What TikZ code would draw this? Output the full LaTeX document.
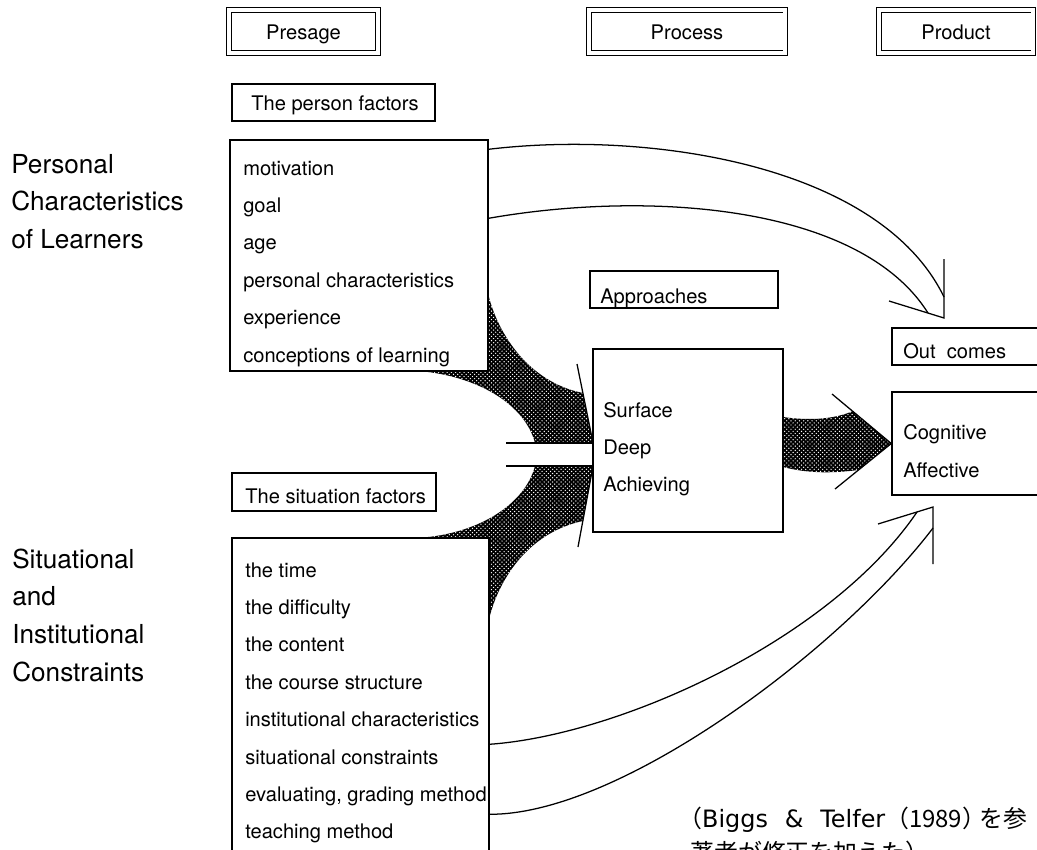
\documentclass[tikz,border=0pt]{standalone}
\usepackage{fontspec}
\setmainfont{TeX Gyre Heros}
\newfontfamily\jpfont{Noto Sans CJK JP}
\newfontfamily\reffont{DejaVu Sans}
\usetikzlibrary{calc,backgrounds,patterns}

\newcommand{\boxfont}{\fontsize{14.3}{17}\selectfont}
\newcommand{\sidefont}{\fontsize{18.6}{22}\selectfont}

\begin{document}
\begin{tikzpicture}[x=0.025cm, y=-0.025cm]
\tikzset{stagebox/.style={draw=black, double=white, double distance=2.2pt, line width=0.7pt, inner sep=0pt,
           minimum height=1.075cm, text height=11pt, text depth=0pt, font=\boxfont},
  frame/.style={draw, line width=1pt, inner sep=0pt},
  item/.style={anchor=base west, inner sep=0pt, font=\boxfont},
  side/.style={anchor=base west, inner sep=0pt, font=\sidefont},
  band/.style={fill=black, postaction={pattern=crosshatch dots, pattern color=white}},
  flow/.style={line width=0.9pt}};
   \useasboundingbox (0,0) rectangle (1037,849);

   % the three stages
   \node[stagebox, minimum width=3.725cm] (presage) at (303.5,31.5) {Presage};
   \node[stagebox, minimum width=4.9cm] (process) at (687,31.5) {Process};
   \node[stagebox, minimum width=3.85cm] (product) at (956,31.5) {Product};

   % presage boxes
   \node[frame, minimum width=5.075cm, minimum height=0.925cm] (personlbl) at (333.5,102.5) {};
   \node[item] (personttl) at (251,110) {The person factors};
   \node[frame, minimum width=6.45cm, minimum height=5.775cm] (person) at (359,255.5) {};
   \foreach \t [count=\i] in {motivation, goal, age, personal characteristics, experience, conceptions of learning}
      \node[item] (pf\i) at (243,{175+37.4*(\i-1)}) {\t};

   \node[frame, minimum width=5.1cm, minimum height=0.95cm] (sitlbl) at (334,492) {};
   \node[item] (sitttl) at (245,503) {The situation factors};
   \node[frame, minimum width=6.425cm, minimum height=8.55cm] (sit) at (360.5,709) {};
   \foreach \t [count=\i] in {the time, the difficulty, the content, the course structure,
      institutional characteristics, situational constraints, {evaluating, grading method}, teaching method}
      \node[item] (sf\i) at (245,{577+37.4*(\i-1)}) {\t};

   % side labels
   \foreach \t [count=\i] in {Personal, Characteristics, of Learners}
      \node[side] (learner\i) at (11,{173.2+37.4*(\i-1)}) {\t};
   \foreach \t [count=\i] in {Situational, and, Institutional, Constraints}
      \node[side] (constr\i) at (12,{568+37.7*(\i-1)}) {\t};

   % process
   \node[frame, minimum width=4.7cm, minimum height=0.925cm] (apprlbl) at (684,289.5) {};
   \node[item] (apprttl) at (600,303) {Approaches};
   \node[frame, minimum width=4.75cm, minimum height=4.575cm] (appr) at (688,440.5) {};
   \foreach \t [count=\i] in {Surface, Deep, Achieving}
      \node[item] (ap\i) at (603,{417+37*(\i-1)}) {\t};

   % product
   \node[frame, minimum width=4.2cm, minimum height=0.925cm] (outlbl) at (976,346.5) {};
   \node[item] (outttl) at (903,358) {Out\ \ comes};
   \node[frame, minimum width=4.2cm, minimum height=2.575cm] (cog) at (976,443.5) {};
   \node[item] (oc1) at (903,439) {Cognitive};
   \node[item] (oc2) at (903,477) {Affective};

   % broad arrows
   \begin{scope}[on background layer]
   \fill[band] ($(person.north east)+(0,157)$) .. controls (498,333) and (528,382) .. (583,393)
      -- (593,443) -- (535,443) .. controls (525,405) and (480,378) .. ($(person.south east)+(-63,0)$)
      -- (person.south east) -- cycle;
   \fill[band] (535,466) -- (593,466) -- (583,521) .. controls (530,532) and (500,577) .. ($(sit.north east)+(0,79)$)
      -- (sit.north east) -- ($(sit.north east)+(-64,0)$) .. controls (480,532) and (525,504) .. (535,466) -- cycle;
   \fill[band] (783,417) .. controls (810,421) and (835,419) .. (853,411) -- (cog.west)
      -- (858,470) .. controls (835,473) and (810,474) .. (783,467) -- cycle;
   \end{scope}
   \draw[flow] (577,364) -- (593,443);
   \draw[flow] (578,547) -- (593,466);
   \draw[flow] (506,443) -- (593,443);
   \draw[flow] (506,466) -- (593,466);
   \draw[flow] (832,394) -- (cog.west) -- (835,489);

   % open arrows to the outcomes
   \coordinate (tipT) at (944,318);
   \coordinate (tipB) at (933,507);
   \draw[flow] ($(person.north east)+(0,10)$) .. controls (650,130) and (880,165) .. (944,297);
   \draw[flow] ($(person.north east)+(0,79)$) .. controls (650,190) and (860,205) .. (928,313);
   \draw[flow] (944,259) -- (tipT) -- (889,301);
   \draw[flow] ($(sit.north east)+(0,207)$) .. controls (620,735) and (830,640) .. (917,512);
   \draw[flow] ($(sit.north east)+(0,277)$) .. controls (620,815) and (840,650) .. (933,528);
   \draw[flow] (878,524) -- (tipB) -- (933,564);

   % source note
   \node[anchor=base west, inner sep=0pt, font=\reffont\fontsize{17}{20}\selectfont] (src1) at (678,827)
      {{\jpfont （}Biggs\hspace{12pt}\&\hspace{12pt}Telfer{\jpfont （1989）\kern-5pt を参}};
   \node[anchor=base west, inner sep=0pt, font=\jpfont\fontsize{17}{20}\selectfont] (src2) at (690,861)
      {著者が修正を加えた）};
\end{tikzpicture}
\end{document}
